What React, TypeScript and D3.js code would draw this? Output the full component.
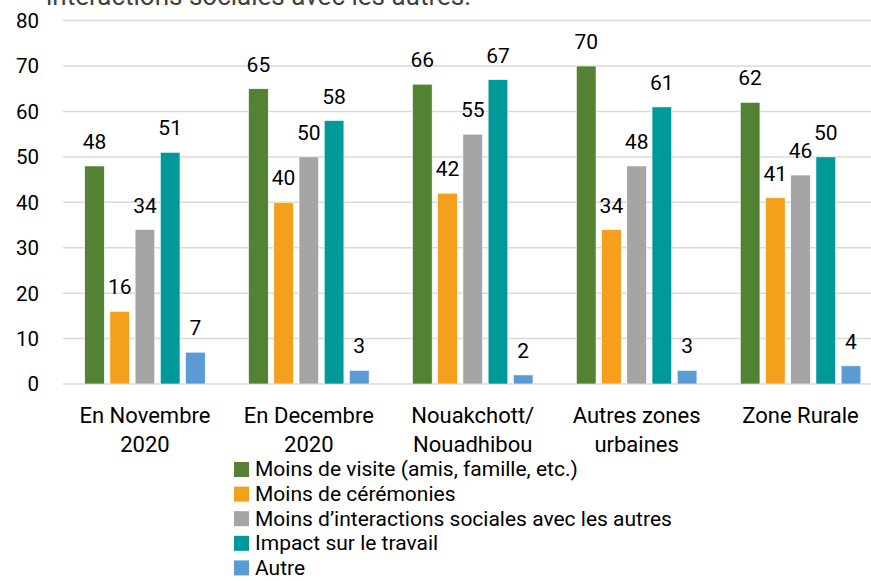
import React from "react";
import * as d3 from "d3";

const categories = [
  ["En Novembre", "2020"],
  ["En Decembre", "2020"],
  ["Nouakchott/", "Nouadhibou"],
  ["Autres zones", "urbaines"],
  ["Zone Rurale"],
];
const seriesNames = [
  "Moins de visite (amis, famille, etc.)",
  "Moins de cérémonies",
  "Moins d’interactions sociales avec les autres",
  "Impact sur le travail",
  "Autre",
];
const seriesColors = ["#548235", "#f4a01c", "#a5a5a5", "#009999", "#5b9bd5"];
const visite = [48, 65, 66, 70, 62];
const ceremonies = [16, 40, 42, 34, 41];
const interactions = [34, 50, 55, 48, 46];
const travail = [51, 58, 67, 61, 50];
const autre = [7, 3, 2, 3, 4];
const yTicks = [0, 10, 20, 30, 40, 50, 60, 70, 80];
const titleText = "interactions sociales avec les autres.";

const series = [visite, ceremonies, interactions, travail, autre];
const FONT = "Roboto, 'Open Sans', sans-serif";

export default function App() {
  const W = 871, H = 581;
  const x0 = d3.scaleBand<number>().domain(d3.range(categories.length)).range([63, 882.5]).padding(0);
  const x1 = d3.scaleBand<number>().domain(d3.range(series.length)).range([0, x0.bandwidth()]).paddingInner(0.22).paddingOuter(0.86);
  const y = d3.scaleLinear().domain([0, 80]).range([384, 20.6]);

  return (
    <svg width={W} height={H} style={{ position: "absolute", left: 0, top: 0, background: "#fff" }} fontFamily={FONT}>
      <text x={46} y={5} fontSize={26} fill="#404040">{titleText}</text>
      {yTicks.map((t) => (
        <g key={t}>
          <line x1={63} x2={W} y1={y(t)} y2={y(t)} stroke="#d9d9d9" strokeWidth={1.5} />
          <text x={39} y={y(t)} dy="0.36em" textAnchor="end" fontSize={20.5} fill="#000">{t}</text>
        </g>
      ))}
      {categories.map((c, ci) => (
        <g key={ci} transform={`translate(${x0(ci)},0)`}>
          {series.map((s, si) => {
            const v = s[ci];
            const bx = x1(si)!;
            const bw = x1.bandwidth();
            return (
              <g key={si}>
                <rect x={bx} y={y(v)} width={bw} height={y(0) - y(v)} fill={seriesColors[si]} stroke="#fff" strokeWidth={0.6} />
                <text x={bx + bw / 2} y={y(v) - 17} textAnchor="middle" fontSize={21} fill="#000">{v}</text>
              </g>
            );
          })}
          {c.map((line, li) => (
            <text key={li} x={x0.bandwidth() / 2} y={423 + li * 29} textAnchor="middle" fontSize={22} fill="#000">{line}</text>
          ))}
        </g>
      ))}
      {seriesNames.map((n, i) => (
        <g key={i} transform={`translate(234,${469 + i * 24.6})`}>
          <rect x={0} y={-7} width={15} height={15} fill={seriesColors[i]} />
          <text x={21} y={0} dy="0.35em" fontSize={21} fill="#000">{n}</text>
        </g>
      ))}
    </svg>
  );
}
